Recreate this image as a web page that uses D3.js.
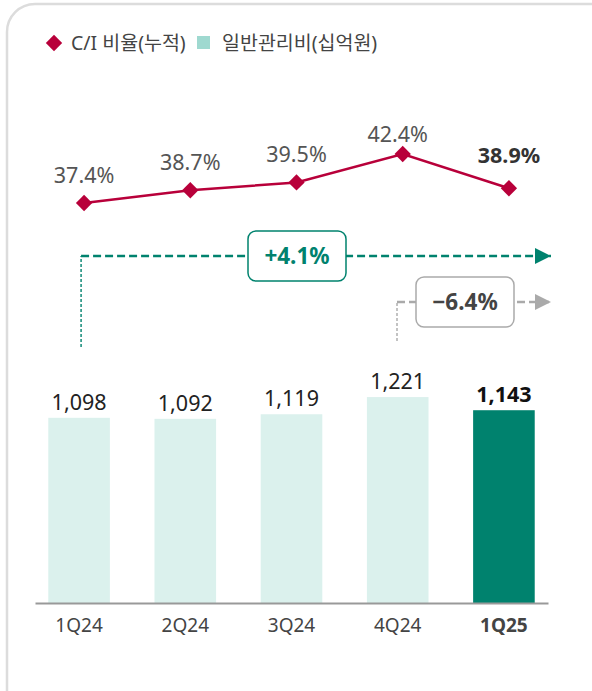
<!DOCTYPE html>
<html>
<head>
<meta charset="utf-8">
<script src="https://cdn.jsdelivr.net/npm/d3@7"></script>
<style>
  body { margin: 0; background: #fff; }
  text { font-family: "Noto Sans", "Noto Sans CJK KR", sans-serif; }
</style>
</head>
<body>
<div id="chart"></div>
<script>
// data
const quarters = ["1Q24", "2Q24", "3Q24", "4Q24", "1Q25"];
const ciRatio = [37.4, 38.7, 39.5, 42.4, 38.9];
const sgaExpense = [1098, 1092, 1119, 1221, 1143];
const legendLabels = ["C/I 비율(누적)", "일반관리비(십억원)"];
const changeLabels = ["+4.1%", "\u22126.4%"];

const width = 592, height = 691;
const red = "#b8003a", teal = "#00826e", lightTeal = "#dbf1ed", legendTeal = "#9fd9d0";

const svg = d3.select("#chart")
              .append("svg")
              .attr("width", width)
              .attr("height", height);

// card border
svg.append("rect")
   .attr("x", 7).attr("y", 4)
   .attr("width", 620).attr("height", 720)
   .attr("rx", 28)
   .attr("fill", "#fff")
   .attr("stroke", "#dcdcdc")
   .attr("stroke-width", 2.5);

const x = d3.scaleBand()
            .domain(quarters)
            .range([35, 548])
            .paddingInner(0.42)
            .paddingOuter(0.125);
const yBar = d3.scaleLinear()
               .domain([0, 1500])
               .range([603, 350]);
const yLine = d3.scaleLinear()
                .domain([30, 45])
                .range([275.5, 128.5]);
const cx = q => x(q) + x.bandwidth() / 2;
const last = quarters.length - 1;

// legend
const legend = svg.append("g").attr("transform", "translate(54,43)");
legend.append("path")
      .attr("d", d3.symbol(d3.symbolDiamond2, 170)())
      .attr("fill", red);
legend.append("text")
      .attr("x", 17).attr("y", 7)
      .attr("font-size", 19.5).attr("fill", "#444")
      .text(legendLabels[0]);
legend.append("rect")
      .attr("x", 143).attr("y", -7)
      .attr("width", 13).attr("height", 13)
      .attr("fill", legendTeal);
legend.append("text")
      .attr("x", 168).attr("y", 7)
      .attr("font-size", 19.5).attr("fill", "#444")
      .text(legendLabels[1]);

// bars
svg.selectAll(".bar")
   .data(sgaExpense)
   .enter()
   .append("rect")
   .attr("class", "bar")
   .attr("x", (d, i) => x(quarters[i]))
   .attr("y", d => yBar(d))
   .attr("width", x.bandwidth())
   .attr("height", d => yBar(0) - yBar(d))
   .attr("fill", (d, i) => i === last ? teal : lightTeal);

svg.selectAll(".bar-label")
   .data(sgaExpense)
   .enter()
   .append("text")
   .attr("class", "bar-label")
   .attr("x", (d, i) => cx(quarters[i]))
   .attr("y", d => yBar(d) - 8)
   .attr("text-anchor", "middle")
   .attr("font-size", 21.5)
   .attr("font-weight", (d, i) => i === last ? "bold" : "normal")
   .attr("fill", (d, i) => i === last ? "#111" : "#222")
   .text(d => d3.format(",")(d));

// x axis
const xAxis = svg.append("g")
                 .attr("transform", `translate(0,${yBar(0)})`)
                 .call(d3.axisBottom(x).tickSize(0).tickPadding(16));
xAxis.select(".domain").attr("stroke", "#999").attr("stroke-width", 2);
xAxis.selectAll(".tick text")
     .attr("font-size", 19)
     .attr("fill", "#444")
     .attr("font-family", "Noto Sans")
     .attr("font-weight", (d, i) => i === last ? "bold" : "normal");

// line
const lineX = (d, i) => cx(quarters[i]) + 5;
const line = d3.line()
               .x(lineX)
               .y(d => yLine(d));
svg.append("path")
   .datum(ciRatio)
   .attr("fill", "none")
   .attr("stroke", red)
   .attr("stroke-width", 2.5)
   .attr("d", line);
svg.selectAll(".pt")
   .data(ciRatio)
   .enter()
   .append("path")
   .attr("class", "pt")
   .attr("transform", (d, i) => `translate(${lineX(d, i)},${yLine(d)})`)
   .attr("d", d3.symbol(d3.symbolDiamond2, 170)())
   .attr("fill", red);
svg.selectAll(".pt-label")
   .data(ciRatio)
   .enter()
   .append("text")
   .attr("class", "pt-label")
   .attr("x", (d, i) => lineX(d, i) - (i === 3 ? 5 : 0))
   .attr("y", (d, i) => yLine(d) - (i === 3 ? 12 : i === last ? 25 : 20))
   .attr("text-anchor", "middle")
   .attr("font-size", 21.5)
   .attr("font-weight", (d, i) => i === last ? "bold" : "normal")
   .attr("fill", (d, i) => i === last ? "#333" : "#555")
   .text(d => d.toFixed(1) + "%");

// change annotations
const defs = svg.append("defs");
function arrowHead(id, color) {
    defs.append("marker")
        .attr("id", id)
        .attr("viewBox", "0 0 10 10")
        .attr("refX", 10).attr("refY", 5)
        .attr("markerWidth", 6.5).attr("markerHeight", 6.5)
        .attr("markerUnits", "strokeWidth")
        .attr("orient", "auto")
        .append("path")
        .attr("d", "M0,0 L10,5 L0,10 Z")
        .attr("fill", color);
}
arrowHead("arrow-green", teal);
arrowHead("arrow-gray", "#aaa");

function annotation(x0, yTop, yBottom, xEnd, color, boxX, label, labelColor, id) {
    const g = svg.append("g");
    g.append("line")
     .attr("x1", x0).attr("x2", x0)
     .attr("y1", yBottom).attr("y2", yTop)
     .attr("stroke", color).attr("stroke-width", 1.4)
     .attr("stroke-dasharray", "3,2");
    g.append("line")
     .attr("x1", x0).attr("x2", xEnd)
     .attr("y1", yTop).attr("y2", yTop)
     .attr("stroke", color).attr("stroke-width", 2.5)
     .attr("stroke-dasharray", "8,4")
     .attr("marker-end", `url(#${id})`);
    g.append("rect")
     .attr("x", boxX - 49).attr("y", yTop - 25)
     .attr("width", 98).attr("height", 50)
     .attr("rx", 8)
     .attr("fill", "#fff")
     .attr("stroke", color).attr("stroke-width", 1.5);
    g.append("text")
     .attr("x", boxX).attr("y", yTop + 8)
     .attr("text-anchor", "middle")
     .attr("font-size", 22.5).attr("font-weight", "bold")
     .attr("fill", labelColor)
     .text(label);
}
annotation(cx(quarters[0]) + 2, 256, 347, 551, teal, 297, changeLabels[0], teal, "arrow-green");
annotation(397, 302, 341, 551, "#aaa", 465, changeLabels[1], "#444", "arrow-gray");
</script>
</body>
</html>
